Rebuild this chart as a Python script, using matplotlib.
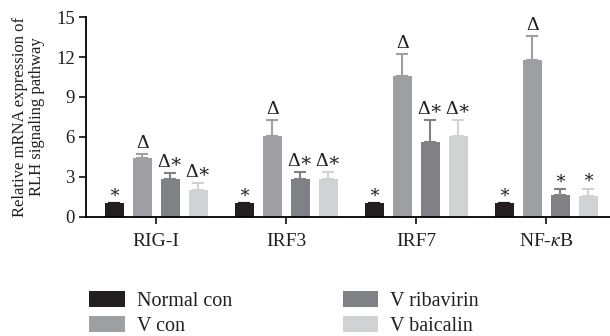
import numpy as np
import matplotlib
matplotlib.use("Agg")
import matplotlib.pyplot as plt

plt.rcParams['font.family'] = ['Liberation Serif', 'DejaVu Serif']
plt.rcParams['mathtext.fontset'] = 'stix'
plt.rcParams['text.color'] = '#231f20'
plt.rcParams['axes.labelcolor'] = '#231f20'
plt.rcParams['xtick.color'] = '#231f20'
plt.rcParams['ytick.color'] = '#231f20'

genes = ['RIG-I', 'IRF3', 'IRF7', r'NF-$\kappa$B']
groups = ['Normal con', 'V con', 'V ribavirin', 'V baicalin']
colors = ['#231f20', '#9d9fa3', '#808184', '#d1d2d4']

# mean values per group (rows) and gene (columns)
means = [
    [1.0, 1.0, 1.0, 1.0],
    [4.38, 6.05, 10.55, 11.75],
    [2.8, 2.8, 5.6, 1.63],
    [2.0, 2.8, 6.05, 1.55],
]
# upper error
errs = [
    [0.0, 0.0, 0.0, 0.0],
    [0.37, 1.25, 1.7, 1.83],
    [0.5, 0.53, 1.7, 0.42],
    [0.5, 0.57, 1.25, 0.55],
]
marks = [
    ['∗', '∗', '∗', '∗'],
    ['Δ', 'Δ', 'Δ', 'Δ'],
    ['Δ∗', 'Δ∗', 'Δ∗', '∗'],
    ['Δ∗', 'Δ∗', 'Δ∗', '∗'],
]

fig = plt.figure(figsize=(6.10, 3.36), dpi=100)
ax = fig.add_axes([0.141, 0.355, 0.859, 0.594])

x = np.arange(len(genes))
step = 0.215
width = 0.146
for i in range(len(groups)):
    pos = x + (i - 1.5) * step
    ax.bar(pos, means[i], width, color=colors[i], label=groups[i], zorder=2)
    ax.errorbar(pos, means[i], yerr=[np.zeros(4), errs[i]], fmt='none',
                ecolor=colors[i], elinewidth=1.5, capsize=4.5, capthick=1.5, zorder=1)
    for j in range(len(genes)):
        top = means[i][j] + errs[i][j]
        ax.text(pos[j], top + 0.15, marks[i][j], ha='center', va='bottom',
                fontsize=14 if 'Δ' in marks[i][j] else 13)

ax.set_xlim(-0.54, 3.49)
ax.set_ylim(0, 15)
ax.set_yticks([0, 3, 6, 9, 12, 15])
ax.set_xticks(x)
ax.set_xticklabels(genes, fontsize=14)
ax.tick_params(axis='y', labelsize=13.5, width=1.3, length=5, pad=3)
ax.tick_params(axis='x', width=1.3, length=5, pad=7)
ax.spines['top'].set_visible(False)
ax.spines['right'].set_visible(False)
ax.spines['left'].set_linewidth(1.3)
ax.spines['bottom'].set_linewidth(1.3)
ax.set_ylabel('Relative mRNA expression of\nRLH signaling pathway', fontsize=12,
              labelpad=8, linespacing=1.1)

handles, labels = ax.get_legend_handles_labels()
fig.legend(handles, labels, ncol=2, loc='upper left', bbox_to_anchor=(0.13, 0.165),
           frameon=False, fontsize=14.5, handlelength=1.75, handleheight=0.85,
           labelspacing=0.25, columnspacing=5.5, handletextpad=0.6, borderpad=0)

fig.savefig('out.png', dpi=100)
